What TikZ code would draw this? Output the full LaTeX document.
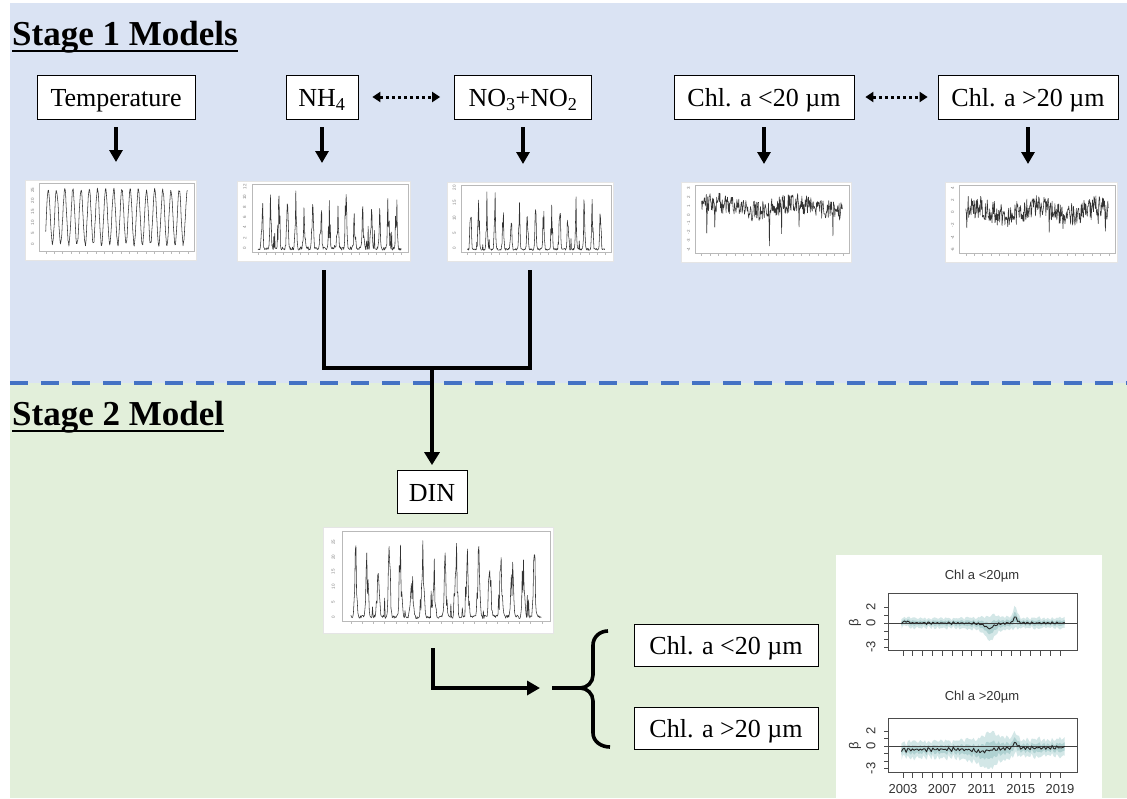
\documentclass[tikz,border=0pt]{standalone}
\usepackage{fontspec}
\setmainfont{Liberation Serif}
\newfontfamily\psans{Liberation Sans}
\usetikzlibrary{arrows.meta,calc}
\definecolor{bgblue}{HTML}{DAE3F3}
\definecolor{bggreen}{HTML}{E2EFDA}
\definecolor{dashblue}{HTML}{4472C4}
\definecolor{bandlight}{HTML}{D3E7E7}
\definecolor{banddark}{HTML}{AFD1D1}

\newcommand\tsplot[7]{%
  \node[fill=white, draw=gray!20, line width=0.4pt, inner sep=0pt, anchor=north west,
        minimum width={#4-#2}, minimum height={#5-#3}] (#1) at (#2,#3) {};
  \pgfmathsetmacro\pw{#4-#2}\pgfmathsetmacro\ph{#5-#3}%
  \pgfmathsetmacro\fxa{#2+0.085*\pw}\pgfmathsetmacro\fxb{#4-0.012*\pw}%
  \pgfmathsetmacro\fya{#3+0.04*\ph}\pgfmathsetmacro\fyb{#5-0.11*\ph}%
  \pgfmathsetmacro\fw{\fxb-\fxa}\pgfmathsetmacro\fh{\fyb-\fya}%
  \draw[gray!55, line width=0.4pt] (\fxa,\fya) rectangle (\fxb,\fyb);
  \foreach \i in {0,...,17} \draw[gray!55, line width=0.4pt] ({\fxa+(0.04+0.92*\i/17)*\fw},\fyb) -- ++(0,2.5);
  \begin{scope}[shift={(\fxa,\fyb)}, x=\fw pt, y=\fh pt]
    \draw[black!80, line width=0.55pt, line join=round] plot[domain=0.04:0.96, samples=300] (\x,{#6});
    \foreach \p/\l in {#7} \node[rotate=90, font=\psans\fontsize{4.5}{5}\selectfont, text=gray, inner sep=0pt] at (-0.045,\p) {\l};
  \end{scope}
}

\begin{document}
\begin{tikzpicture}[x=1pt, y=-1pt,
  box/.style={draw=black, line width=0.8pt, fill=white, font=\fontsize{26}{29}\selectfont, minimum height=44pt, inner xsep=6pt, inner ysep=2pt, text height=19pt, text depth=0pt},
  arr/.style={line width=3.2pt, -{Triangle[width=13pt,length=12pt]}},
  darr/.style={line width=3pt, dash pattern=on 3pt off 3pt, {Triangle[width=10pt,length=8pt]}-{Triangle[width=10pt,length=8pt]}},
  conn/.style={line width=3.8pt, line join=miter},
  head/.style={font=\bfseries\fontsize{35}{40}\selectfont, anchor=base west, inner sep=0pt},
  ulin/.style={line width=2.5pt},
  pfont/.style={font=\psans\fontsize{13}{14}\selectfont, text=black!80},
  declare function={
    nz(\t)=0.5*sin(\t*13731)+0.3*sin(\t*11377+40)+0.2*sin(\t*8781+80);
    bump(\t,\c,\s)=1/(1+((\t-\c)/\s)^2);
    va(\t)=0.2*nz(\t)-0.7*bump(\t,0.55,0.03)+1.1*bump(\t,0.715,0.008)+0.3*bump(\t,0.02,0.01);
    wa(\t)=0.45+0.35*abs(nz(1.02-\t))+0.9*bump(\t,0.56,0.05)+0.7*bump(\t,0.715,0.012);
    vb(\t)=-0.5+0.35*nz(\t)+0.3*\t-0.4*bump(\t,0.5,0.06)+1.0*bump(\t,0.715,0.01);
    wb(\t)=0.8+0.6*abs(nz(1.02-\t))+1.3*bump(\t,0.55,0.08);
  }]
\pgfmathsetseed{7}
\useasboundingbox (0,0) rectangle (1127,798);
\fill[white] (0,0) rectangle (1127,798);
\fill[bgblue] (10,3) rectangle (1127,383);
\fill[bggreen] (10,383) rectangle (1127,798);
\draw[dashblue, line width=3.5pt, dash pattern=on 18pt off 13pt] (10,383) -- (1127,383);

% headings
\node[head] (h1) at (12,45) {Stage 1 Models};
\draw[ulin] ([yshift=-6pt]h1.base west) -- ([yshift=-6pt]h1.base east);
\node[head] (h2) at (12,425) {Stage 2 Model};
\draw[ulin] ([yshift=-6pt]h2.base west) -- ([yshift=-6pt]h2.base east);

% stage 1 boxes
\node[box, minimum width=158pt] (temp) at (116,97) {Temperature};
\node[box, minimum width=72pt] (nh4) at (322,97) {NH\textsubscript{4}};
\node[box, minimum width=137pt] (no3) at (523,97) {NO\textsubscript{3}+NO\textsubscript{2}};
\node[box, minimum width=180pt] (chlA) at (764,97) {Chl. a <20 µm};
\node[box, minimum width=180pt] (chlB) at (1028,97) {Chl. a >20 µm};

\draw[darr, shorten <=14pt, shorten >=14pt] (nh4.east) -- (no3.west);
\draw[darr, shorten <=11pt, shorten >=10pt] (chlA.east) -- (chlB.west);

% stage 1 plots
\tsplot{ptemp}{25}{180}{196}{260}{0.5+0.4*sin(\x*6800+60)+0.07*(rnd-0.5)}{0.1/0,0.26/5,0.42/10,0.58/15,0.74/20,0.9/25}
\tsplot{pnh4}{237}{181}{410}{261}{0.03+0.05*rnd+0.85*(0.5+0.5*sin(\x*6700))^6*(0.2+0.8*rnd)+0.35*(rnd>0.92)*rnd}{0.06/0,0.21/2,0.36/4,0.51/6,0.66/8,0.81/10,0.96/12}
\tsplot{pno3}{447}{182}{613}{261}{0.03+0.03*rnd+0.9*(0.5+0.5*sin(\x*6650+30))^8*(0.3+0.7*rnd)+0.2*(rnd>0.95)*rnd}{0.06/0,0.285/5,0.51/10,0.735/15,0.96/20}
\tsplot{pchlA}{681}{182}{851}{262}{0.68+0.06*sin(\x*700)+0.3*(rnd-0.5)-0.45*(rnd>0.99)}{0.95/3,0.82/2,0.69/1,0.56/0,0.44/-1,0.31/-2,0.18/-3,0.05/-4}
\tsplot{pchlB}{945}{182}{1117}{262}{0.62+0.06*sin(\x*900)+0.34*(rnd-0.5)-0.3*(rnd>0.97)*rnd}{0.96/4,0.78/2,0.6/0,0.41/-2,0.23/-4,0.05/-6}

\foreach \b/\p in {temp/ptemp, nh4/pnh4, no3/pno3, chlA/pchlA, chlB/pchlB}
  \draw[arr, shorten <=8pt, shorten >=18pt] (\b.south) -- (\b.south |- \p.north);

% merge to DIN
\coordinate (join) at (432,368);
\draw[conn] ([yshift=-9pt]pnh4.south) |- (join) -| ([yshift=-9pt]pno3.south);
\node[box, minimum width=70pt, minimum height=43pt] (din) at (432,492) {DIN};
\draw[arr, line width=3.6pt, -{Triangle[width=15pt,length=13pt]}, shorten >=5pt] (join) -- (din.north);

\tsplot{pdin}{323}{527}{553}{633}{0.03+0.04*rnd+0.85*(0.5+0.5*sin(\x*6700+20))^5*(0.25+0.75*rnd)+0.3*(rnd>0.92)*rnd}{0.05/0,0.216/5,0.382/10,0.548/15,0.714/20,0.88/25}

% L arrow and brace
\coordinate (ltip) at (540,688);
\draw[arr, line width=3.6pt, -{Triangle[width=14pt,length=13pt]}, line join=miter] ([xshift=-5pt,yshift=-15pt]pdin.south) |- (ltip);
\coordinate (bmid) at (552,688);
\draw[line width=3.6pt] (bmid) -- (580,688) to[out=0,in=-90] (593,675) -- (593,645) to[out=90,in=180] (608,631);
\draw[line width=3.6pt] (580,688) to[out=0,in=90] (593,701) -- (593,733) to[out=-90,in=180] (610,747);

\node[box, minimum width=184pt, minimum height=42pt] (cA) at (726,645) {Chl. a <20 µm};
\node[box, minimum width=184pt, minimum height=42pt] (cB) at (726,728) {Chl. a >20 µm};

% result panel
\node[fill=white, inner sep=0pt, minimum width=266pt, minimum height=243pt, anchor=north west] (panel) at (836,555) {};
\node[pfont] (t1) at (982,576) {Chl a <20µm};
\node[pfont] (t2) at (982,697) {Chl a >20µm};

\begin{scope}[shift={(903,623)}, x=157pt, y=8pt]
  \begin{scope}
    \clip (-0.096,-3.375) rectangle (1.108,3.75);
    \fill[bandlight] plot[domain=-0.01:1.03, samples=105] (\x,{va(\x)+wa(\x)}) -- plot[domain=1.03:-0.01, samples=105] (\x,{va(\x)-wa(\x)}) -- cycle;
    \fill[banddark] plot[domain=-0.01:1.03, samples=105] (\x,{va(\x)+0.45*wa(\x)}) -- plot[domain=1.03:-0.01, samples=105] (\x,{va(\x)-0.45*wa(\x)}) -- cycle;
  \end{scope}
  \draw[black!75, line width=0.6pt] (-0.096,0) -- (1.108,0);
  \draw[black!85, line width=0.9pt, line join=round] plot[domain=-0.01:1.03, samples=105] (\x,{va(\x)});
  \draw[black!70, line width=0.7pt] (-0.096,-3.375) rectangle (1.108,3.75);
  \foreach \v in {-3,...,2} \draw[black!70, line width=0.7pt] (-0.096,\v) -- ++(-4pt,0);
  \foreach \i in {0,...,16} \draw[black!70, line width=0.7pt] (\i/16,-3.375) -- ++(0,-6pt);
  \foreach \v in {2,0,-3} \path (-0.096,\v) ++(-17pt,0) node[pfont, rotate=90] {\v};
  \path (-0.096,0) ++(-33pt,0) node[pfont, rotate=90] {β};
\end{scope}

\begin{scope}[shift={(903,746)}, x=157pt, y=7.5pt]
  \begin{scope}
    \clip (-0.096,-3.47) rectangle (1.108,3.73);
    \fill[bandlight] plot[domain=-0.01:1.03, samples=105] (\x,{vb(\x)+wb(\x)}) -- plot[domain=1.03:-0.01, samples=105] (\x,{vb(\x)-wb(\x)}) -- cycle;
    \fill[banddark] plot[domain=-0.01:1.03, samples=105] (\x,{vb(\x)+0.45*wb(\x)}) -- plot[domain=1.03:-0.01, samples=105] (\x,{vb(\x)-0.45*wb(\x)}) -- cycle;
  \end{scope}
  \draw[black!75, line width=0.6pt] (-0.096,0) -- (1.108,0);
  \draw[black!85, line width=0.9pt, line join=round] plot[domain=-0.01:1.03, samples=105] (\x,{vb(\x)});
  \draw[black!70, line width=0.7pt] (-0.096,-3.47) rectangle (1.108,3.73);
  \foreach \v in {-3,...,2} \draw[black!70, line width=0.7pt] (-0.096,\v) -- ++(-4pt,0);
  \foreach \i in {0,...,16} \draw[black!70, line width=0.7pt] (\i/16,-3.47) -- ++(0,-6pt);
  \foreach \v in {2,0,-3} \path (-0.096,\v) ++(-17pt,0) node[pfont, rotate=90] {\v};
  \path (-0.096,0) ++(-33pt,0) node[pfont, rotate=90] {β};
  \foreach \k/\yr in {0/2003,1/2007,2/2011,3/2015,4/2019} \path (\k/4,-3.47) ++(0,-17pt) node[pfont] {\yr};
\end{scope}
\end{tikzpicture}
\end{document}
